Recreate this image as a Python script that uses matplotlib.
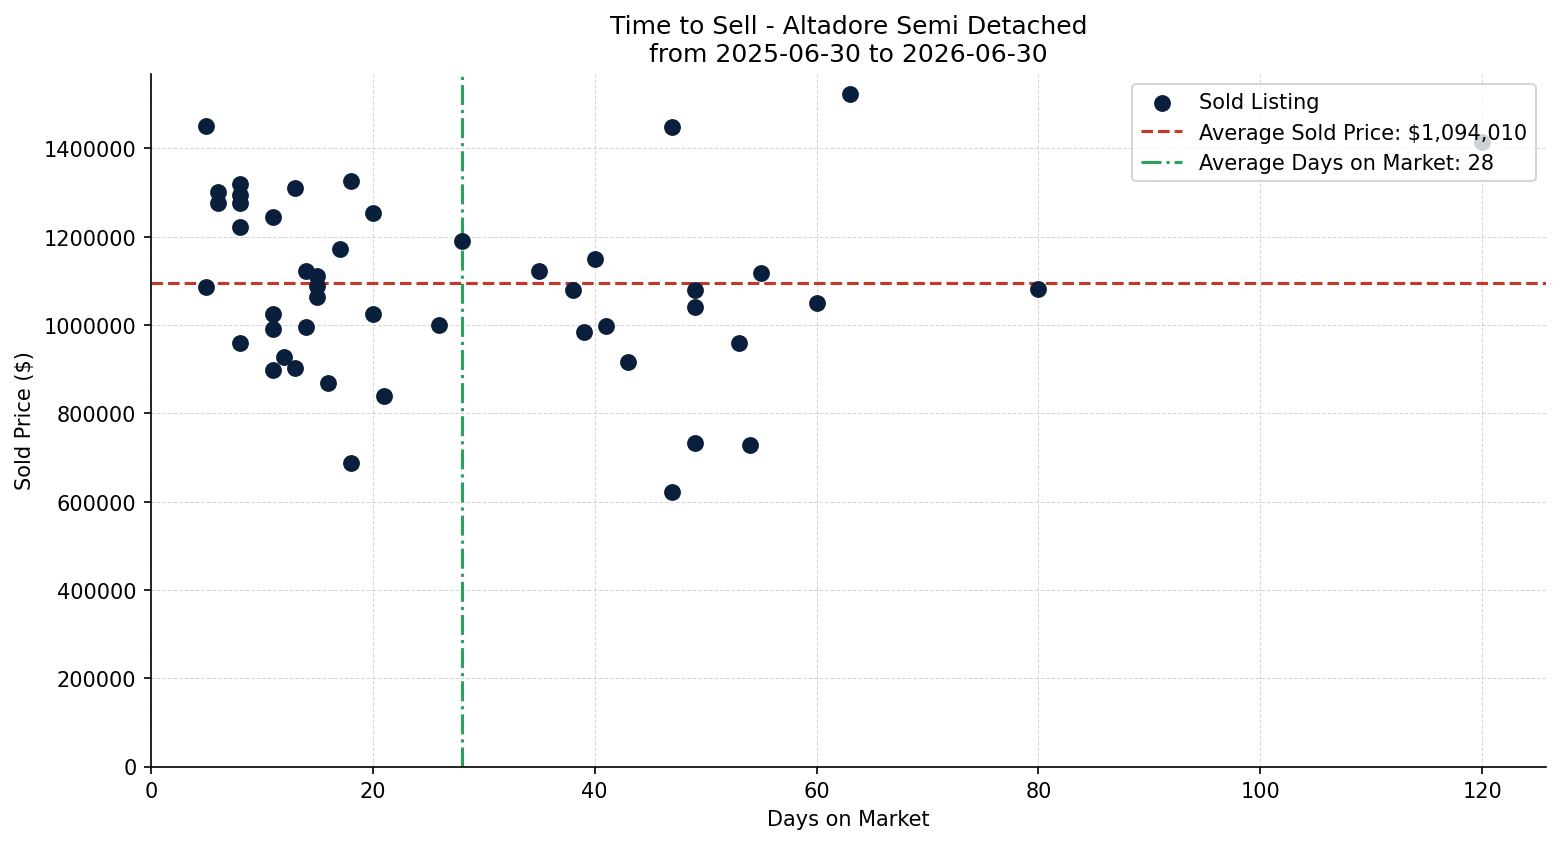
import matplotlib.pyplot as plt

# days on market and sold price for each listing
days = [5, 5, 6, 6, 8, 8, 8, 8, 8, 11, 11, 11, 11, 12, 13, 13, 14, 14, 15, 15,
        15, 16, 17, 18, 18, 20, 20, 21, 26, 28, 35, 38, 39, 40, 41, 43, 47, 47,
        49, 49, 49, 53, 54, 55, 60, 63, 80, 120]
prices = [1450000, 1085000, 1300000, 1277000, 1318000, 1294000, 1275000, 1221000,
          960000, 1244000, 1024000, 990000, 899000, 928000, 1309000, 903000,
          1122000, 995000, 1111000, 1088000, 1064000, 869000, 1173000, 1325000,
          688000, 1254000, 1024000, 840000, 999000, 1189000, 1123000, 1080000,
          985000, 1149000, 998000, 915000, 1449000, 621000, 1080000, 1041000,
          733000, 960000, 727000, 1118000, 1050000, 1524000, 1081000, 1414000]

avg_price = 1094010
avg_days = 28

fig, ax = plt.subplots(figsize=(10.4, 5.633), dpi=150)
fig.subplots_adjust(left=0.0968, right=0.991, top=0.9118, bottom=0.0917)

ax.scatter(days, prices, s=50, color='#0a1f3c', label='Sold Listing', zorder=3)
ax.axhline(avg_price, color='#c0392b', linestyle='--', linewidth=1.5,
           label=f'Average Sold Price: ${avg_price:,}')
ax.axvline(avg_days, color='#2ca25f', linestyle='-.', linewidth=1.5,
           label=f'Average Days on Market: {avg_days}')

ax.set_xlim(left=0)
ax.set_ylim(bottom=0)
ax.ticklabel_format(style='plain', axis='y')

ax.set_title('Time to Sell - Altadore Semi Detached\nfrom 2025-06-30 to 2026-06-30')
ax.set_xlabel('Days on Market')
ax.set_ylabel('Sold Price ($)')
ax.grid(True, linestyle='--', linewidth=0.5, alpha=0.5)
ax.spines['top'].set_visible(False)
ax.spines['right'].set_visible(False)
ax.legend(loc='upper right')

fig.savefig('out.png', dpi=150)
